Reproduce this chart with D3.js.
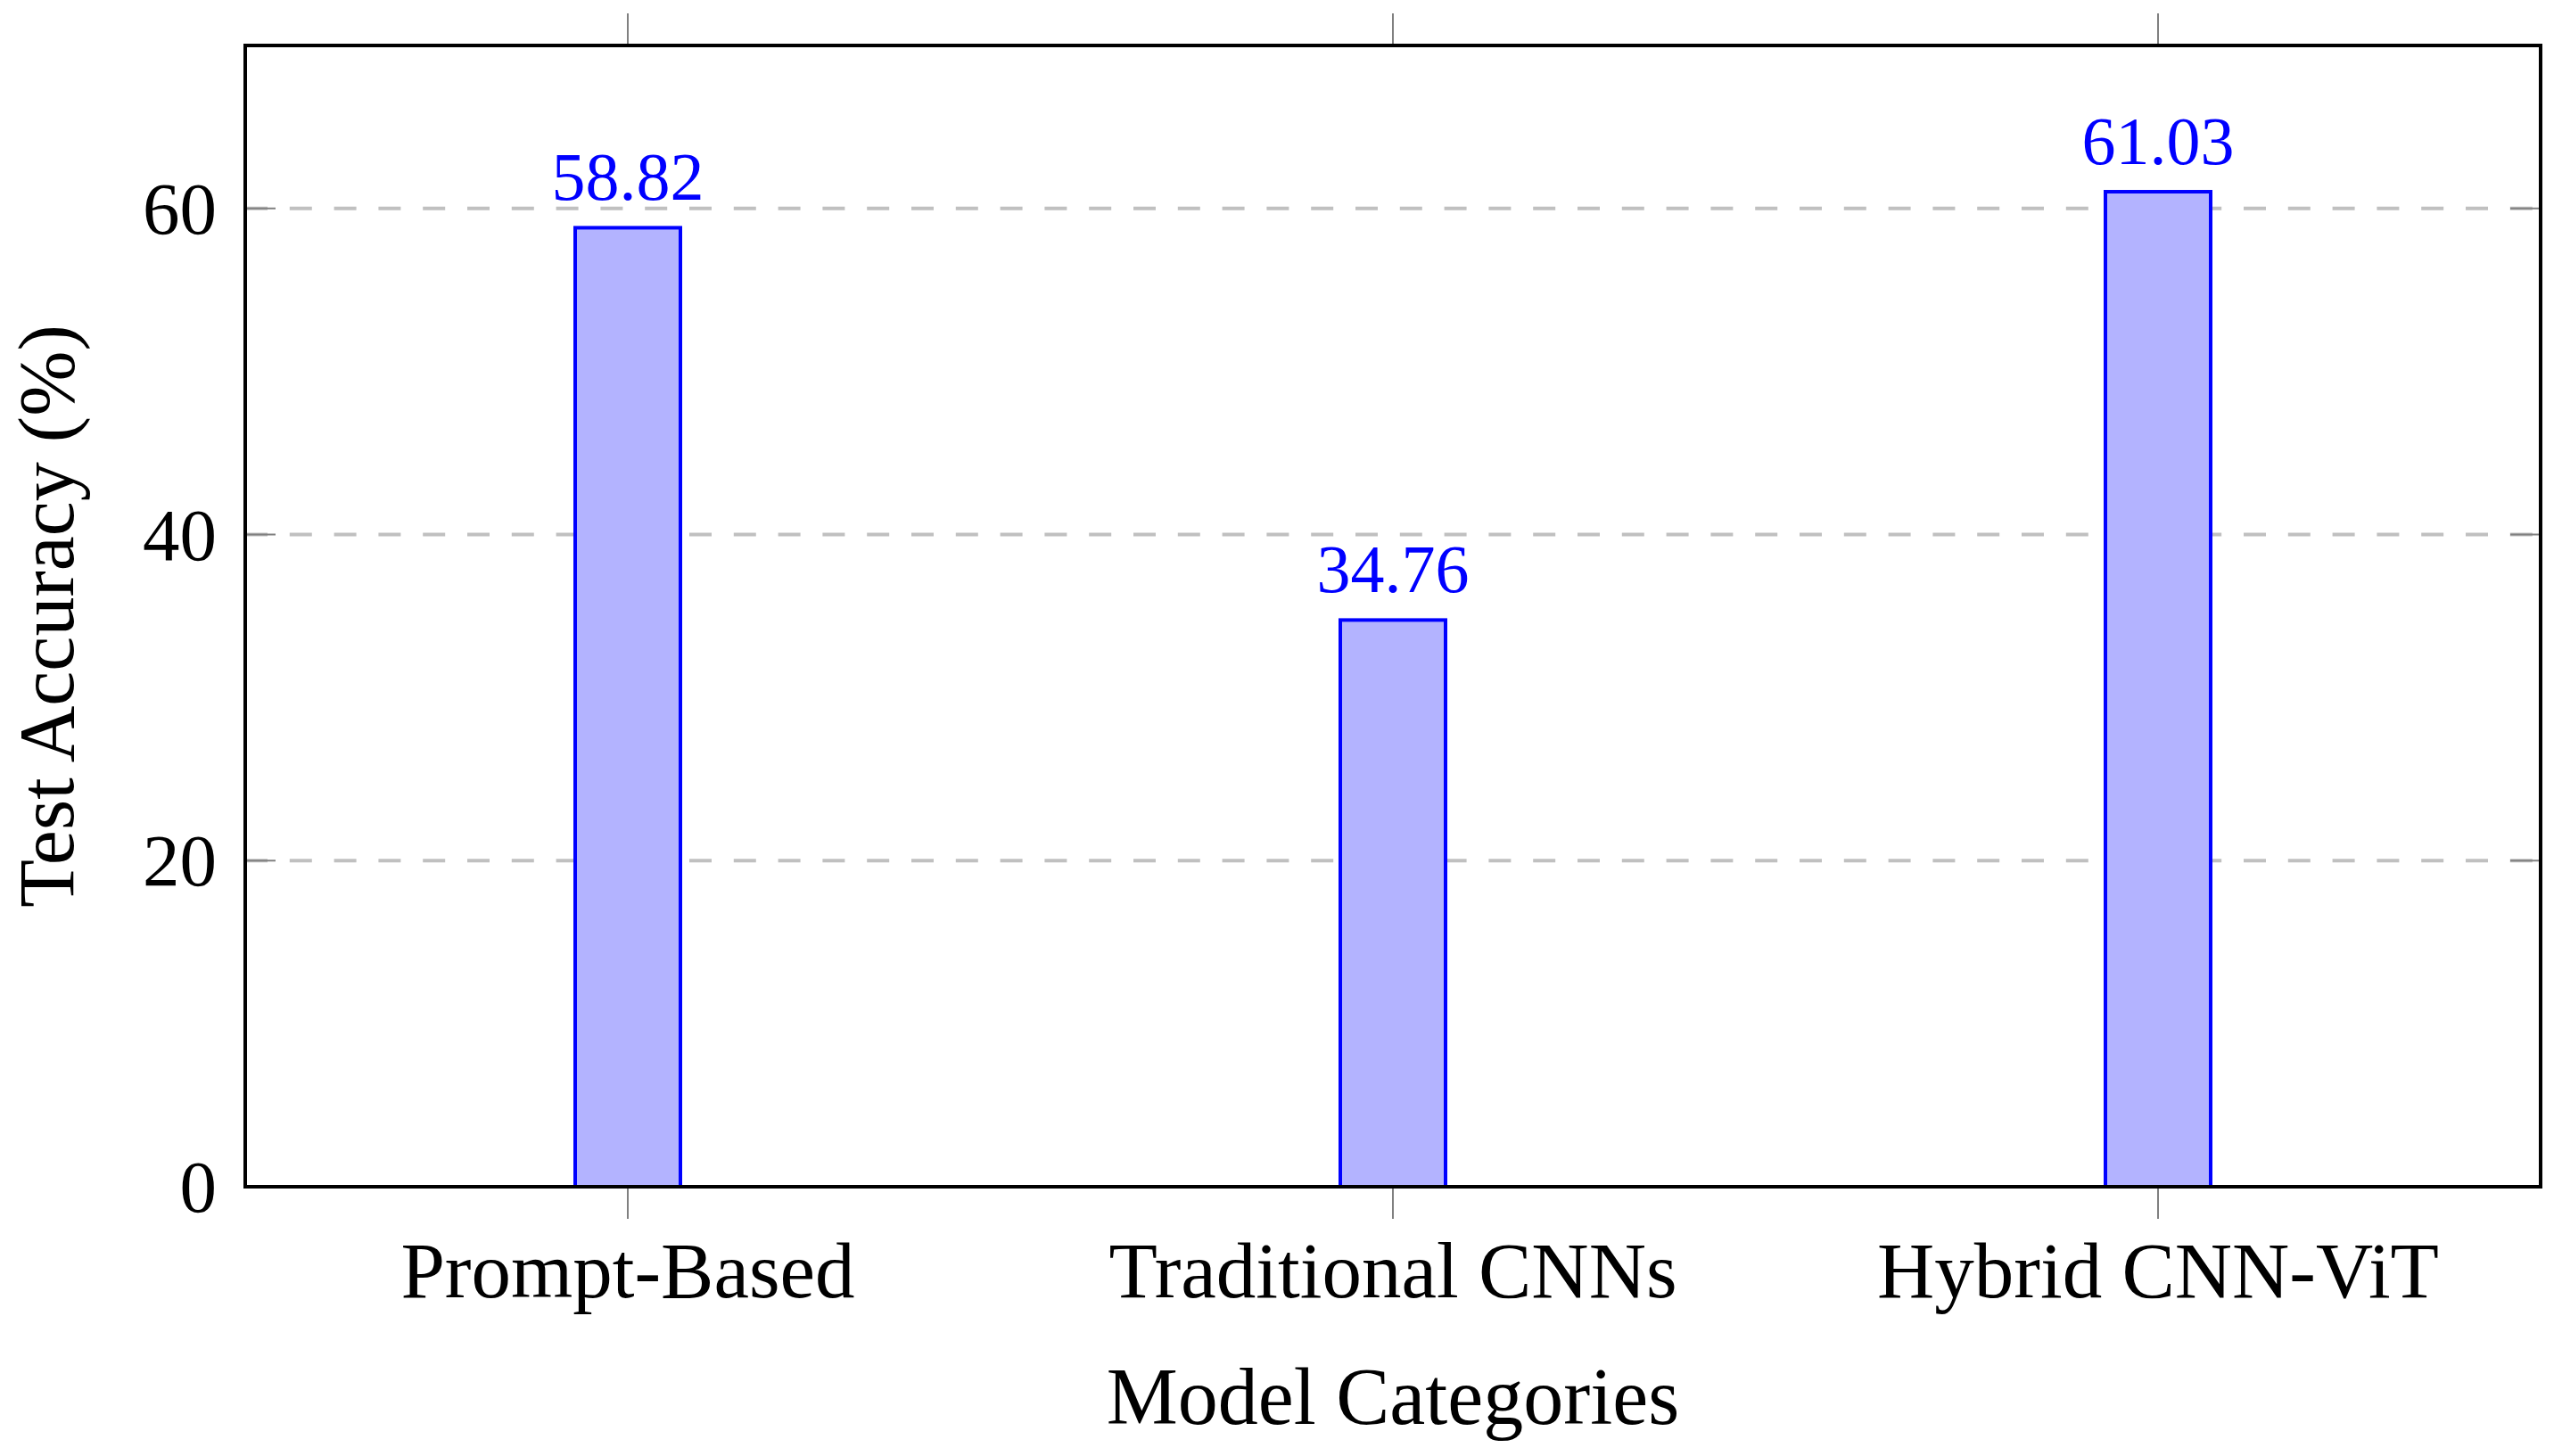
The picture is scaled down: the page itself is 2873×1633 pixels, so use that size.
<!DOCTYPE html>
<html lang="en">
<head>
    <meta charset="UTF-8">
    <title>Test Accuracy by Model Category</title>
    <style>
        body { margin: 0; background: white; }
        text { font-family: "Liberation Serif", serif; }
    </style>
</head>
<body>
    <script src="https://d3js.org/d3.v7.min.js"></script>
    <script type="text/javascript">
        // data
        var categories = ["Prompt-Based", "Traditional CNNs", "Hybrid CNN-ViT"];
        var accuracy = [58.82, 34.76, 61.03];
        var yTicks = [0, 20, 40, 60];
        var yMax = 70;

        var width = 2873;
        var height = 1633;
        // plot area (note: "top" is reserved on window, so prefix these)
        var plotLeft = 275, plotRight = 2849, plotTop = 51, plotBottom = 1331;

        var svg = d3.select("body").append("svg")
            .attr("width", width)
            .attr("height", height);

        var x = d3.scalePoint()
            .domain(categories)
            .range([plotLeft, plotRight])
            .padding(0.5);

        var y = d3.scaleLinear()
            .domain([0, yMax])
            .range([plotBottom, plotTop]);

        // dashed grid lines
        svg.selectAll("line.grid")
            .data(yTicks.filter(function(d) { return d > 0; }))
            .enter().append("line")
            .attr("class", "grid")
            .attr("x1", plotLeft).attr("x2", plotRight)
            .attr("y1", function(d) { return y(d); })
            .attr("y2", function(d) { return y(d); })
            .attr("stroke", "#c0c0c0")
            .attr("stroke-width", 4)
            .attr("stroke-dasharray", "25,24.8");

        // y ticks, inward on both sides
        yTicks.forEach(function(t) {
            svg.append("line")
                .attr("x1", plotLeft).attr("x2", plotLeft + 34)
                .attr("y1", y(t)).attr("y2", y(t))
                .attr("stroke", "#808080").attr("stroke-width", 2);
            svg.append("line")
                .attr("x1", plotRight - 34).attr("x2", plotRight)
                .attr("y1", y(t)).attr("y2", y(t))
                .attr("stroke", "#808080").attr("stroke-width", 2);
        });

        // x ticks, outward top and bottom
        categories.forEach(function(c) {
            svg.append("line")
                .attr("x1", x(c)).attr("x2", x(c))
                .attr("y1", plotTop - 36).attr("y2", plotTop)
                .attr("stroke", "#808080").attr("stroke-width", 2);
            svg.append("line")
                .attr("x1", x(c)).attr("x2", x(c))
                .attr("y1", plotBottom).attr("y2", plotBottom + 36)
                .attr("stroke", "#808080").attr("stroke-width", 2);
        });

        // bars
        var barW = 118;
        svg.selectAll("rect.bar")
            .data(accuracy)
            .enter().append("rect")
            .attr("class", "bar")
            .attr("x", function(d, i) { return x(categories[i]) - barW / 2; })
            .attr("y", function(d) { return y(d); })
            .attr("width", barW)
            .attr("height", function(d) { return y(0) - y(d); })
            .attr("fill", "#b3b3ff")
            .attr("stroke", "#0000ff")
            .attr("stroke-width", 4);

        // value labels above bars
        svg.selectAll("text.val")
            .data(accuracy)
            .enter().append("text")
            .attr("class", "val")
            .attr("x", function(d, i) { return x(categories[i]); })
            .attr("y", function(d) { return y(d) - 31; })
            .attr("text-anchor", "middle")
            .attr("font-size", 76)
            .attr("fill", "#0000ff")
            .text(function(d) { return d.toFixed(2); });

        // frame
        svg.append("rect")
            .attr("x", plotLeft).attr("y", plotTop)
            .attr("width", plotRight - plotLeft).attr("height", plotBottom - plotTop)
            .attr("fill", "none")
            .attr("stroke", "black")
            .attr("stroke-width", 4);

        // y tick labels
        svg.selectAll("text.ytick")
            .data(yTicks)
            .enter().append("text")
            .attr("class", "ytick")
            .attr("x", plotLeft - 32)
            .attr("y", function(d) { return y(d) + 28; })
            .attr("text-anchor", "end")
            .attr("font-size", 83)
            .text(function(d) { return d; });

        // category labels
        svg.selectAll("text.xtick")
            .data(categories)
            .enter().append("text")
            .attr("class", "xtick")
            .attr("x", function(d) { return x(d); })
            .attr("y", 1455)
            .attr("text-anchor", "middle")
            .attr("font-size", 89)
            .text(function(d) { return d; });

        // axis titles
        svg.append("text")
            .attr("x", (plotLeft + plotRight) / 2)
            .attr("y", 1597)
            .attr("text-anchor", "middle")
            .attr("font-size", 90)
            .text("Model Categories");

        svg.append("text")
            .attr("transform", "translate(82," + ((plotTop + plotBottom) / 2) + ") rotate(-90)")
            .attr("text-anchor", "middle")
            .attr("font-size", 88)
            .text("Test Accuracy (%)");
    </script>
</body>
</html>
